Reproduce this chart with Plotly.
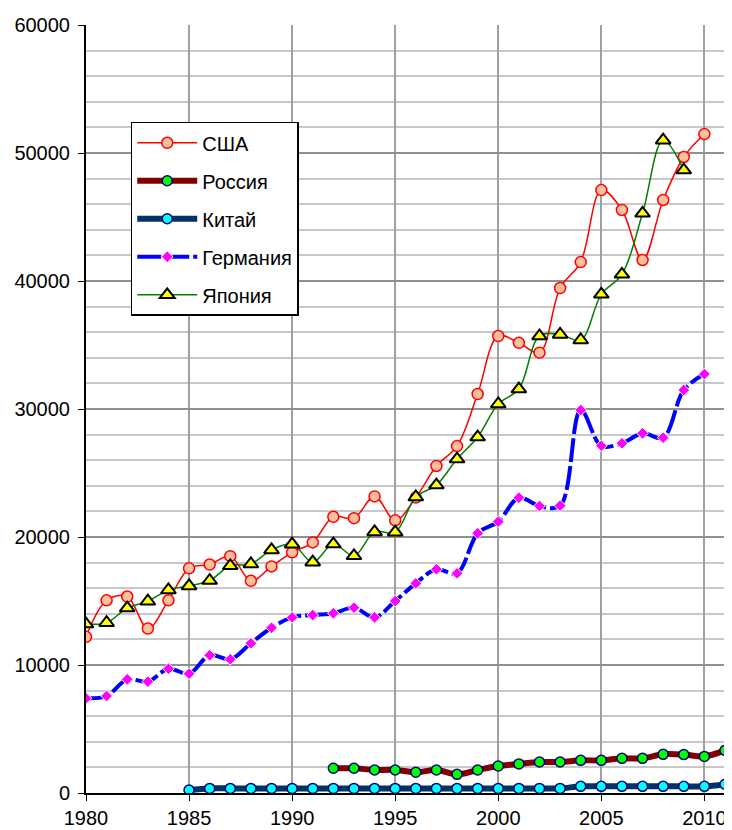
import plotly.graph_objects as go

years_usa = list(range(1980, 2011))
usa = [12200, 15050, 15350, 12850, 15050, 17550, 17850, 18500, 16580, 17700,
       18800, 19580, 21580, 21470, 23170, 21300, 23080, 25550, 27100, 31170,
       35700, 35170, 34400, 39450, 41480, 47100, 45550, 41640, 46330, 49690, 51480]

years_rus = list(range(1992, 2012))
russia = [1930, 1930, 1800, 1800, 1620, 1800, 1460, 1800, 2110, 2270,
          2420, 2420, 2550, 2550, 2710, 2710, 3020, 3000, 2860, 3330]

years_chn = list(range(1985, 2012))
china = [234, 360, 360, 360, 360, 360, 360, 360, 360, 360, 360, 360, 360, 360,
         360, 360, 360, 360, 360, 520, 520, 520, 520, 520, 520, 520, 680]

years_ger = list(range(1980, 2011))
germany = [7400, 7580, 8880, 8700, 9710, 9320, 10760, 10450, 11700, 12910,
           13720, 13900, 14040, 14480, 13720, 15000, 16380, 17480, 17160, 20290,
           21200, 23070, 22420, 22450, 29920, 27130, 27320, 28100, 27760, 31480, 32730]

years_jpn = list(range(1980, 2010))
japan = [13200, 13300, 14450, 14980, 15860, 16180, 16600, 17750, 17890, 18990,
         19440, 18030, 19450, 18530, 20400, 20380, 23125, 24060, 26090, 27810,
         30390, 31560, 35700, 35830, 35390, 38960, 40520, 45290, 51000, 48670]

names = ["США", "Россия", "Китай", "Германия", "Япония"]

fig = go.Figure()

fig.add_trace(go.Scatter(
    x=years_usa, y=usa, name=names[0], mode="lines+markers", legendgroup="a",
    line=dict(color="#FF0000", width=1.5, shape="spline", smoothing=1),
    marker=dict(symbol="circle", size=11, color="#FFC09F",
                line=dict(color="#FF0000", width=1.5))))
fig.add_trace(go.Scatter(
    x=years_rus, y=russia, name=names[1], mode="lines+markers", legendgroup="b",
    line=dict(color="#800000", width=6, shape="spline", smoothing=1),
    marker=dict(symbol="circle", size=10, color="#00FF00",
                line=dict(color="#000080", width=1.5))))
fig.add_trace(go.Scatter(
    x=years_chn, y=china, name=names[2], mode="lines+markers", legendgroup="c",
    line=dict(color="#003366", width=6, shape="spline", smoothing=1),
    marker=dict(symbol="circle", size=10, color="#00FFFF",
                line=dict(color="#000080", width=1.5))))
fig.add_trace(go.Scatter(
    x=years_ger, y=germany, name=names[3], mode="lines+markers", legendgroup="d",
    line=dict(color="#0000FF", width=4, shape="spline", smoothing=1, dash="24px,4px"),
    marker=dict(symbol="diamond", size=9, color="#FF00FF",
                line=dict(color="#FFFFFF", width=1))))
fig.add_trace(go.Scatter(
    x=years_jpn, y=japan, name=names[4], mode="lines+markers", legendgroup="e",
    line=dict(color="#008000", width=1.5, shape="spline", smoothing=1),
    marker=dict(symbol="triangle-up", size=13, color="#FFFF00",
                line=dict(color="#000000", width=2))))

fig.update_layout(
    width=724, height=822,
    margin=dict(l=78, r=7, t=17, b=37),
    paper_bgcolor="white", plot_bgcolor="white",
    font=dict(family="Liberation Sans, Arial, sans-serif", size=20, color="black"),
    showlegend=True,
    legend=dict(x=0.07, y=0.874, xanchor="left", yanchor="top",
                bordercolor="black", borderwidth=1.5, bgcolor="white",
                font=dict(size=20), tracegroupgap=9, traceorder="grouped",
                itemwidth=60),
    xaxis=dict(range=[1980, 2011], tick0=1980, dtick=5, showgrid=True,
               gridcolor="#A0A0A0", gridwidth=1.5, showline=True, linecolor="black",
               linewidth=2, ticks="outside", ticklen=6, tickcolor="black",
               zeroline=False, tickfont=dict(size=20), tickformat="d",
               automargin=False),
    yaxis=dict(range=[0, 60000], tick0=0, dtick=10000, showgrid=True,
               gridcolor="#909090", gridwidth=1.5, showline=True, linecolor="black",
               linewidth=2, ticks="outside", ticklen=6, tickcolor="black",
               zeroline=False, tickfont=dict(size=20), tickformat="d",
               ticklabelstandoff=4, automargin=False,
               minor=dict(dtick=2000, showgrid=True, gridcolor="#C8C8C8", gridwidth=1.5)),
)
fig.add_shape(type="line", xref="paper", yref="paper", x0=1, x1=1, y0=0, y1=1,
              line=dict(color="#A0A0A0", width=1.5), layer="below")

fig.write_html("out.html")
